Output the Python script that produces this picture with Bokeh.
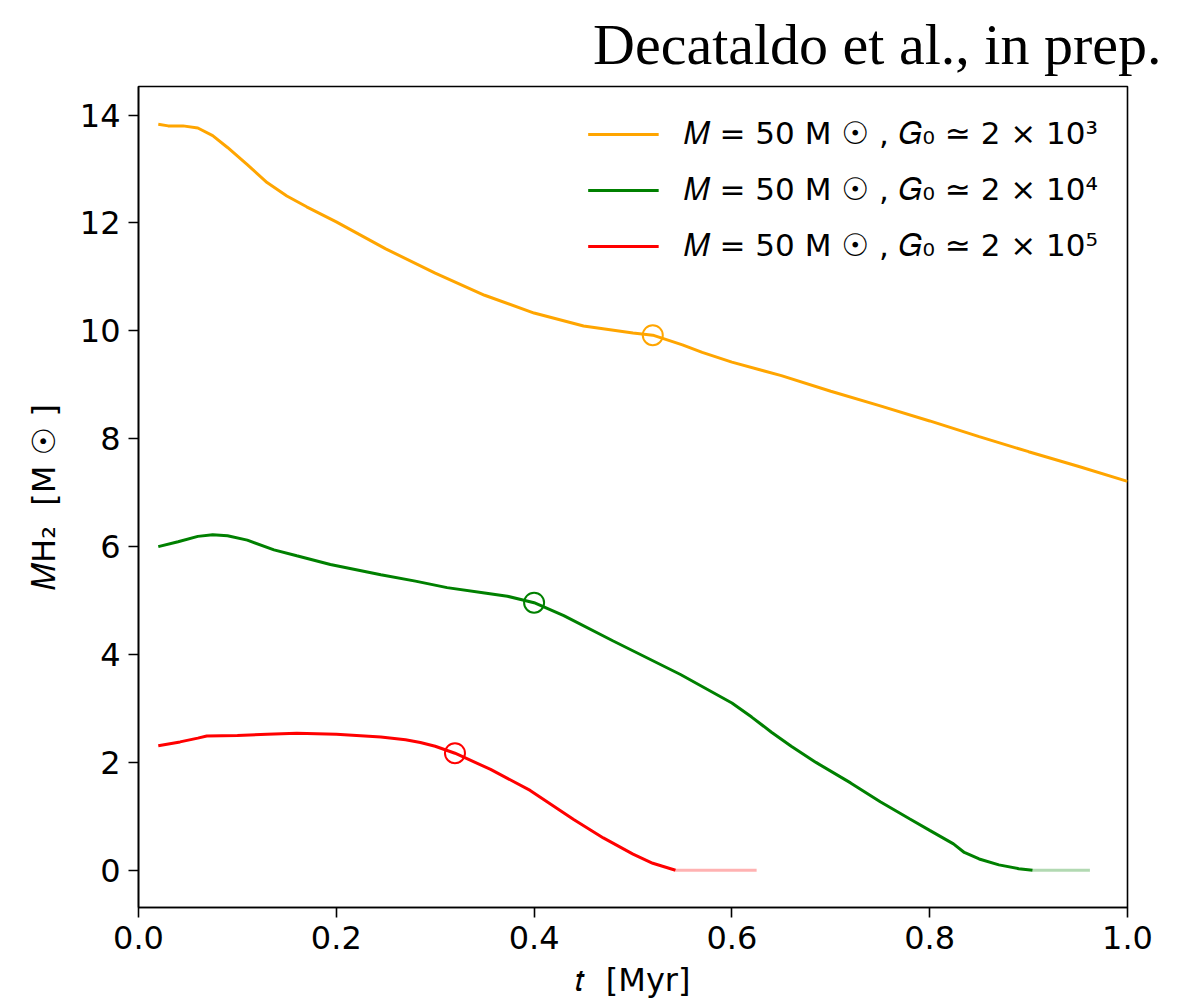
from bokeh.plotting import figure
from bokeh.models import Range1d, FixedTicker, PrintfTickFormatter, Legend, LegendItem
from bokeh.embed import file_html
from bokeh.resources import INLINE

# ---- data ----
t_orange = [0.02, 0.03, 0.045, 0.06, 0.075, 0.09, 0.11, 0.13, 0.15, 0.17, 0.20, 0.25, 0.30,
            0.35, 0.40, 0.45, 0.50, 0.52, 0.55, 0.57, 0.60, 0.63, 0.65, 0.70, 0.75, 0.80,
            0.85, 0.90, 0.95, 1.00]
m_orange = [13.83, 13.80, 13.80, 13.76, 13.62, 13.40, 13.08, 12.75, 12.50, 12.30, 12.02, 11.52,
            11.07, 10.66, 10.33, 10.09, 9.96, 9.92, 9.74, 9.60, 9.42, 9.27, 9.17, 8.88, 8.61,
            8.33, 8.04, 7.76, 7.49, 7.21]

t_green = [0.02, 0.04, 0.06, 0.075, 0.09, 0.11, 0.137, 0.16, 0.194, 0.245, 0.28, 0.312, 0.35,
           0.373, 0.40, 0.43, 0.48, 0.548, 0.60, 0.62, 0.64, 0.66, 0.685, 0.72, 0.75, 0.78,
           0.80, 0.824, 0.835, 0.85, 0.87, 0.89, 0.904]
m_green = [6.00, 6.09, 6.19, 6.22, 6.20, 6.12, 5.94, 5.83, 5.67, 5.48, 5.36, 5.24, 5.14,
           5.08, 4.96, 4.72, 4.25, 3.63, 3.10, 2.84, 2.56, 2.30, 2.00, 1.62, 1.27, 0.95,
           0.74, 0.49, 0.33, 0.21, 0.10, 0.03, 0.00]

t_red = [0.02, 0.042, 0.06, 0.069, 0.10, 0.13, 0.16, 0.20, 0.245, 0.27, 0.285, 0.30, 0.32,
         0.356, 0.396, 0.44, 0.47, 0.50, 0.52, 0.543]
m_red = [2.31, 2.38, 2.45, 2.49, 2.50, 2.52, 2.54, 2.52, 2.47, 2.42, 2.37, 2.30, 2.17,
         1.87, 1.48, 0.94, 0.60, 0.30, 0.13, 0.00]

# faded continuation (zero mass) segments
t_red_tail = [0.543, 0.625]
m_red_tail = [0.0, 0.0]
t_green_tail = [0.904, 0.962]
m_green_tail = [0.0, 0.0]

# open-circle markers
t_marks = [0.52, 0.40, 0.32]
m_marks = [9.92, 4.96, 2.17]
mark_colors = ["#FFA500", "#008000", "#FF0000"]

labels = ["𝑀 = 50 M\u00a0☉ , 𝐺₀ ≃ 2 × 10³",
          "𝑀 = 50 M\u00a0☉ , 𝐺₀ ≃ 2 × 10⁴",
          "𝑀 = 50 M\u00a0☉ , 𝐺₀ ≃ 2 × 10⁵"]
x_ticks = [0.0, 0.2, 0.4, 0.6, 0.8, 1.0]
y_ticks = [0, 2, 4, 6, 8, 10, 12, 14]

# ---- figure ----
p = figure(width=1192, height=1002, output_backend="svg", toolbar_location=None,
           x_range=Range1d(0, 1.0), y_range=Range1d(-0.69, 14.53),
           min_border_left=138, min_border_right=65, min_border_top=83, min_border_bottom=95)
p.background_fill_color = "white"
p.border_fill_color = "white"
p.grid.visible = False
p.outline_line_color = "black"
p.outline_line_width = 1.6

p.title.text = "Decataldo et al., in prep."
p.title.align = "right"
p.title.text_font = "Liberation Serif"
p.title.text_font_size = "58px"
p.title.text_font_style = "normal"
p.title.text_color = "black"
p.title.offset = -34
p.title.standoff = 19

for ax in (p.xaxis[0], p.yaxis[0]):
    ax.major_label_text_font = "DejaVu Sans"
    ax.major_label_text_font_size = "32px"
    ax.major_label_text_color = "black"
    ax.axis_label_text_font = "DejaVu Sans"
    ax.axis_label_text_font_size = "32px"
    ax.axis_label_text_font_style = "normal"
    ax.axis_label_text_color = "black"
    ax.major_tick_out = 10
    ax.major_tick_in = 0
    ax.minor_tick_out = 0
    ax.minor_tick_in = 0
    ax.major_tick_line_width = 1.6
    ax.axis_line_width = 1.6
    ax.major_label_standoff = 8

p.xaxis.ticker = FixedTicker(ticks=x_ticks)
p.xaxis.formatter = PrintfTickFormatter(format="%.1f")
p.yaxis.ticker = FixedTicker(ticks=y_ticks)
p.yaxis.formatter = PrintfTickFormatter(format="%d")
p.xaxis.axis_label = "𝑡\u00a0\u00a0[Myr]"
p.yaxis.axis_label = "𝑀H₂\u00a0\u00a0[M\u00a0☉\u00a0]"
p.xaxis.axis_label_standoff = 9
p.yaxis.axis_label_standoff = 14

r_o = p.line(t_orange, m_orange, color="#FFA500", line_width=3)
r_g = p.line(t_green, m_green, color="#008000", line_width=3)
r_r = p.line(t_red, m_red, color="#FF0000", line_width=3)
p.line(t_green_tail, m_green_tail, color="#008000", line_width=3, line_alpha=0.3)
p.line(t_red_tail, m_red_tail, color="#FF0000", line_width=3, line_alpha=0.3)
p.scatter(t_marks, m_marks, marker="circle", size=20, fill_color=None,
          line_color=mark_colors, line_width=2)

legend = Legend(items=[LegendItem(label=labels[0], renderers=[r_o]),
                       LegendItem(label=labels[1], renderers=[r_g]),
                       LegendItem(label=labels[2], renderers=[r_r])],
                location="top_right")
legend.label_text_font = "DejaVu Sans"
legend.label_text_font_size = "31px"
legend.label_text_color = "black"
legend.glyph_width = 71
legend.glyph_height = 36
legend.label_height = 36
legend.label_standoff = 25
legend.spacing = 19
legend.padding = 19
legend.margin = 10
legend.border_line_alpha = 0
legend.background_fill_alpha = 0
p.add_layout(legend)

open("out.html", "w").write(file_html(p, INLINE))
